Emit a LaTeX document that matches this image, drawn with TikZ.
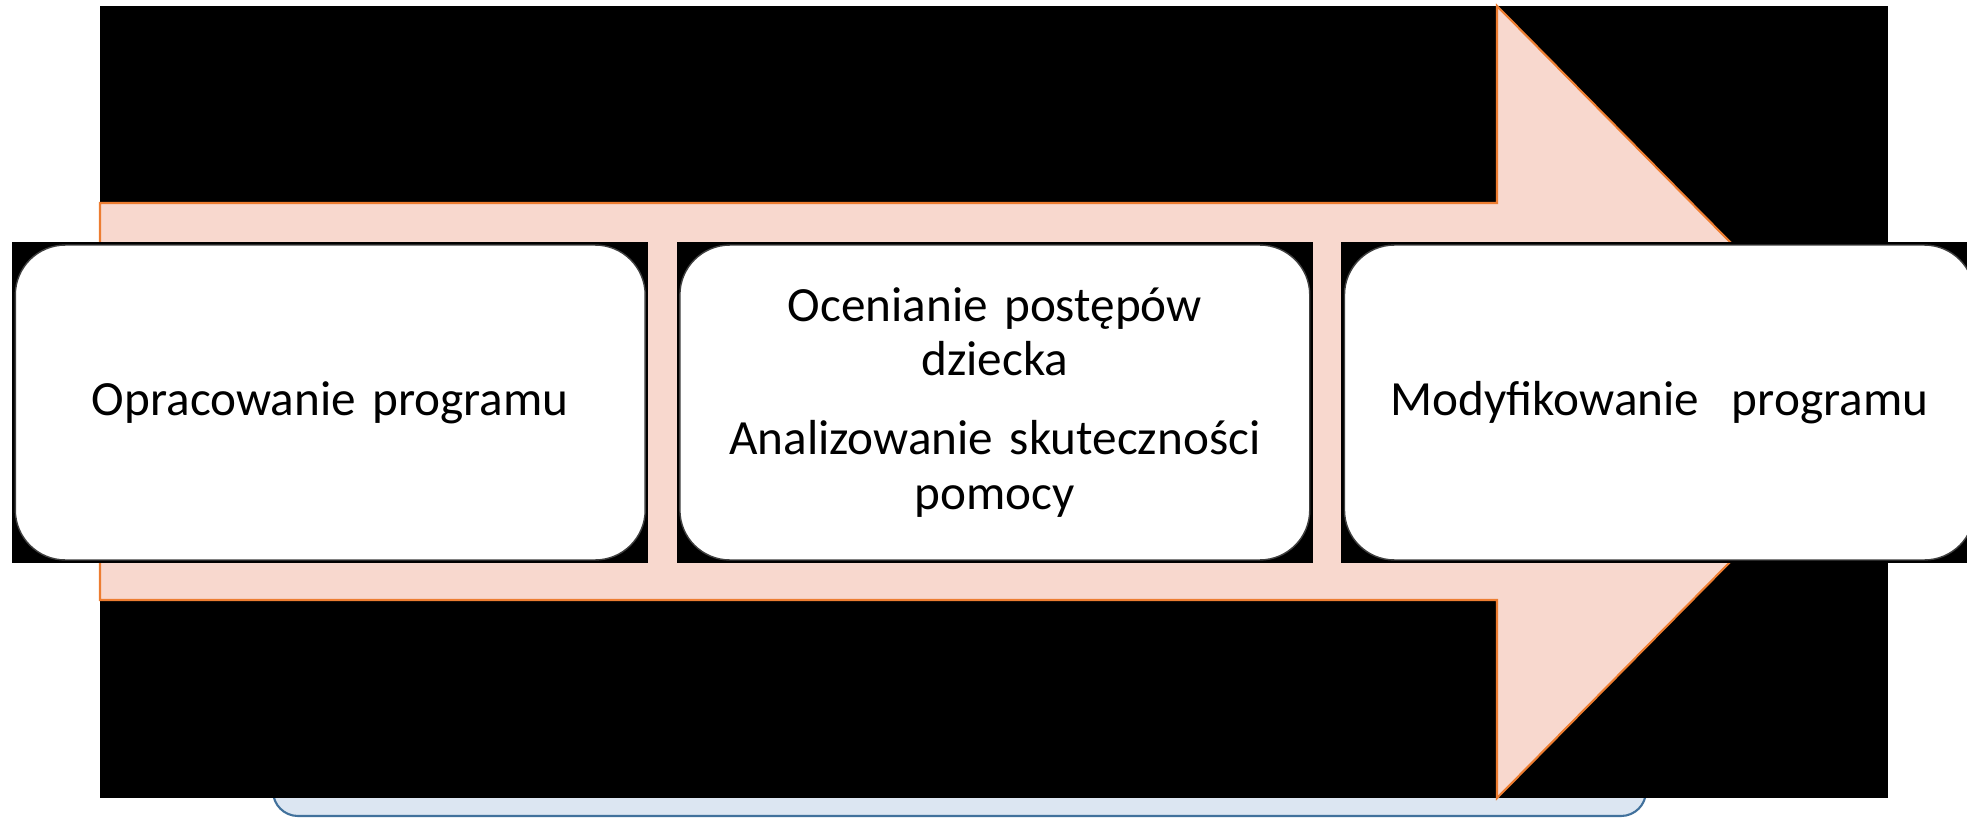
\documentclass[tikz,border=0pt]{standalone}
\usepackage{fontspec}
\setmainfont{Carlito}
\usepackage{xcolor}
\usepackage{tikz}
\usetikzlibrary{positioning}
\definecolor{arrowfill}{HTML}{F8D8CE}
\definecolor{arrowline}{HTML}{ED7D31}
\definecolor{notefill}{HTML}{DCE6F2}
\definecolor{noteline}{HTML}{41719C}

\begin{document}
\begin{tikzpicture}[x=0.02cm,y=-0.02cm]
        \useasboundingbox (0,0) rectangle (1967,818);
        \clip (0,0) rectangle (1967,818);
        % blue box below
        \draw[noteline,fill=notefill,line width=1.2pt,rounded corners=0.5cm] (273,690) rectangle (1646,816);
        % arrow with its black backdrop
        \fill[black] (100,6) rectangle (1888,798);
        \draw[arrowline,fill=arrowfill,line width=1.2pt] (100,203) -- (1497,203) -- (1497,6) -- (1888,402)
          -- (1497,798) -- (1497,600) -- (100,600) -- cycle;
        \begin{scope}[every node/.style={fill=black,inner sep=0pt,minimum width=12.72cm,minimum height=6.42cm},
                      node distance=0.56cm]
          \node (t1) at (330.25,402.5) {};
          \node[right=of t1] (t2) {};
          \node[right=of t2] (t3) {};
        \end{scope}
        \begin{scope}[every node/.style={draw=black!75,fill=white,line width=0.8pt,rounded corners=1cm,
                      minimum width=12.6cm,minimum height=6.3cm,text width=11.6cm,align=center,
                      font=\fontsize{28}{31}\selectfont}]
          \node (opr) at (t1) {Opracowanie programu};
          \node (oce) at (t2) {Ocenianie postępów\\ dziecka\\[14pt] Analizowanie skuteczności\\ pomocy};
          \node (mod) at (t3) {Modyfikowanie\ \ programu};
        \end{scope}
      \end{tikzpicture}
\end{document}
